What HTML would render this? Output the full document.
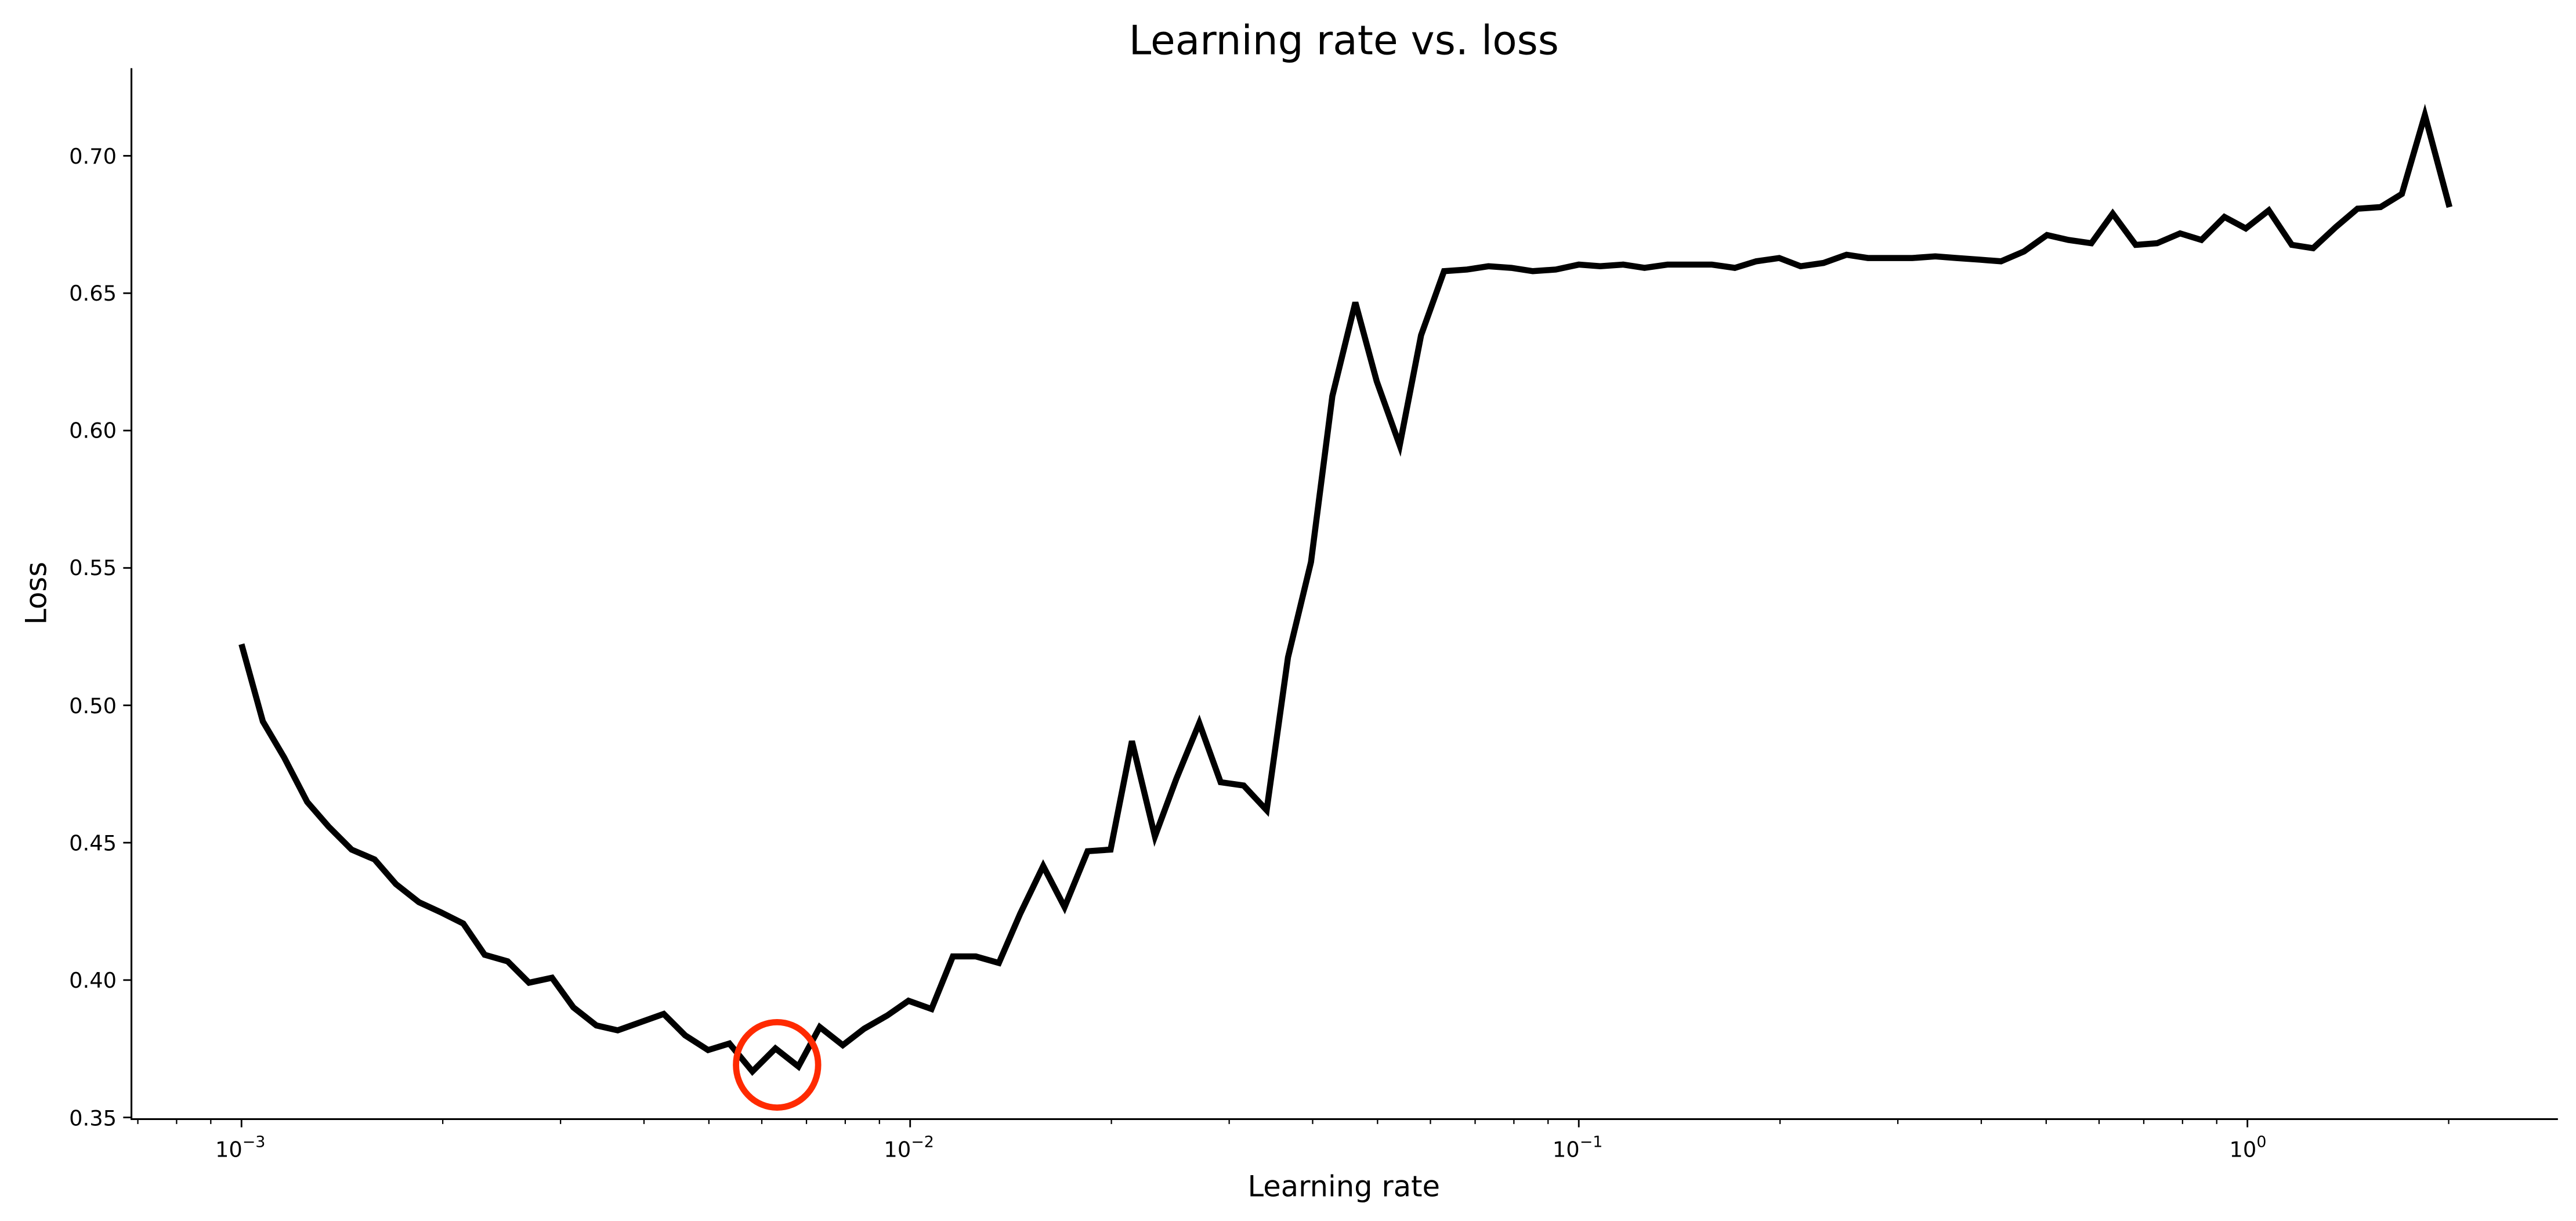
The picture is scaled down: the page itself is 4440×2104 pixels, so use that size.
<!DOCTYPE html>
<html><head><meta charset="utf-8"><style>html,body{margin:0;padding:0;background:#fff;}svg{display:block}</style></head>
<body>
<svg width="4440" height="2104" viewBox="0 0 1568 743" xmlns="http://www.w3.org/2000/svg" font-family="DejaVu Sans, Liberation Sans, sans-serif">
<rect width="1568" height="743" fill="#fff"/>
<text x="818" y="33" font-size="24.5" text-anchor="middle">Learning rate vs. loss</text>
<line x1="80" y1="41.5" x2="80" y2="681" stroke="#000" stroke-width="1.1"/>
<line x1="79.5" y1="681" x2="1557" y2="681" stroke="#000" stroke-width="1.1"/>
<g stroke="#000" stroke-width="1">
<line x1="75" x2="80" y1="680" y2="680"/><line x1="75" x2="80" y1="596.4" y2="596.4"/>
<line x1="75" x2="80" y1="512.8" y2="512.8"/><line x1="75" x2="80" y1="429.2" y2="429.2"/>
<line x1="75" x2="80" y1="345.6" y2="345.6"/><line x1="75" x2="80" y1="262" y2="262"/>
<line x1="75" x2="80" y1="178.4" y2="178.4"/><line x1="75" x2="80" y1="94.8" y2="94.8"/>
</g>
<g font-size="13" text-anchor="end">
<text x="71" y="685">0.35</text><text x="71" y="601">0.40</text><text x="71" y="517.5">0.45</text>
<text x="71" y="434">0.50</text><text x="71" y="350">0.55</text><text x="71" y="266.5">0.60</text>
<text x="71" y="183">0.65</text><text x="71" y="99.5">0.70</text>
</g>
<g stroke="#000" stroke-width="1">
<line x1="147" x2="147" y1="681" y2="686"/><line x1="554" x2="554" y1="681" y2="686"/>
<line x1="961" x2="961" y1="681" y2="686"/><line x1="1368" x2="1368" y1="681" y2="686"/>
</g>
<g stroke="#000" stroke-width="0.8">
<line x1="83.9" x2="83.9" y1="681" y2="684"/><line x1="107.5" x2="107.5" y1="681" y2="684"/><line x1="128.3" x2="128.3" y1="681" y2="684"/>
<line x1="269.5" x2="269.5" y1="681" y2="684"/><line x1="341.2" x2="341.2" y1="681" y2="684"/><line x1="392" x2="392" y1="681" y2="684"/><line x1="431.5" x2="431.5" y1="681" y2="684"/><line x1="463.7" x2="463.7" y1="681" y2="684"/><line x1="490.9" x2="490.9" y1="681" y2="684"/><line x1="514.5" x2="514.5" y1="681" y2="684"/><line x1="535.3" x2="535.3" y1="681" y2="684"/>
<line x1="676.5" x2="676.5" y1="681" y2="684"/><line x1="748.2" x2="748.2" y1="681" y2="684"/><line x1="799" x2="799" y1="681" y2="684"/><line x1="838.5" x2="838.5" y1="681" y2="684"/><line x1="870.7" x2="870.7" y1="681" y2="684"/><line x1="897.9" x2="897.9" y1="681" y2="684"/><line x1="921.5" x2="921.5" y1="681" y2="684"/><line x1="942.3" x2="942.3" y1="681" y2="684"/>
<line x1="1083.5" x2="1083.5" y1="681" y2="684"/><line x1="1155.2" x2="1155.2" y1="681" y2="684"/><line x1="1206" x2="1206" y1="681" y2="684"/><line x1="1245.5" x2="1245.5" y1="681" y2="684"/><line x1="1277.7" x2="1277.7" y1="681" y2="684"/><line x1="1304.9" x2="1304.9" y1="681" y2="684"/><line x1="1328.5" x2="1328.5" y1="681" y2="684"/><line x1="1349.3" x2="1349.3" y1="681" y2="684"/>
<line x1="1490.5" x2="1490.5" y1="681" y2="684"/>
</g>
<g font-size="13">
<text x="131" y="704">10<tspan font-size="9.5" dy="-6">−3</tspan></text>
<text x="538" y="704">10<tspan font-size="9.5" dy="-6">−2</tspan></text>
<text x="945" y="704">10<tspan font-size="9.5" dy="-6">−1</tspan></text>
<text x="1357" y="704">10<tspan font-size="9.5" dy="-6">0</tspan></text>
</g>
<text x="818" y="728" font-size="17.5" text-anchor="middle">Learning rate</text>
<text transform="translate(28,361) rotate(-90)" font-size="17.5" text-anchor="middle">Loss</text>
<polyline fill="none" stroke="#000" stroke-width="3.7" stroke-linejoin="miter" points="147,392 160,439 173,461 187,488 200,503 214,517 228,523 241,538 255,549 268,555 282,562 295,581 309,585 322,598 336,595 349,613 363,624 376,627 390,622 404,617 417,630 431,639 444,635 458,652 472,638 486,649 499,625 513,636 526,626 540,618 553,609 567,614 580,582 594,582 608,586 621,556 635,527 648,552 662,518 676,517 689,451 703,509 716,474 730,440 743,476 757,478 771,493 784,400 798,342 811,241 825,184 838,232 852,271 865,204 879,165 893,164 906,162 920,163 933,165 947,164 961,161 974,162 988,161 1001,163 1015,161 1029,161 1042,161 1056,163 1069,159 1083,157 1096,162 1110,160 1124,155 1137,157 1151,157 1164,157 1178,156 1191,157 1205,158 1218,159 1232,153 1246,143 1259,146 1273,148 1286,130 1300,149 1313,148 1327,142 1340,146 1354,132 1367,139 1381,128 1395,149 1408,151 1422,138 1435,127 1449,126 1462,118 1476,70 1491,126"/>
<ellipse cx="473" cy="648" rx="25" ry="26" fill="none" stroke="#ff2a00" stroke-width="3.8"/>
</svg>
</body></html>
